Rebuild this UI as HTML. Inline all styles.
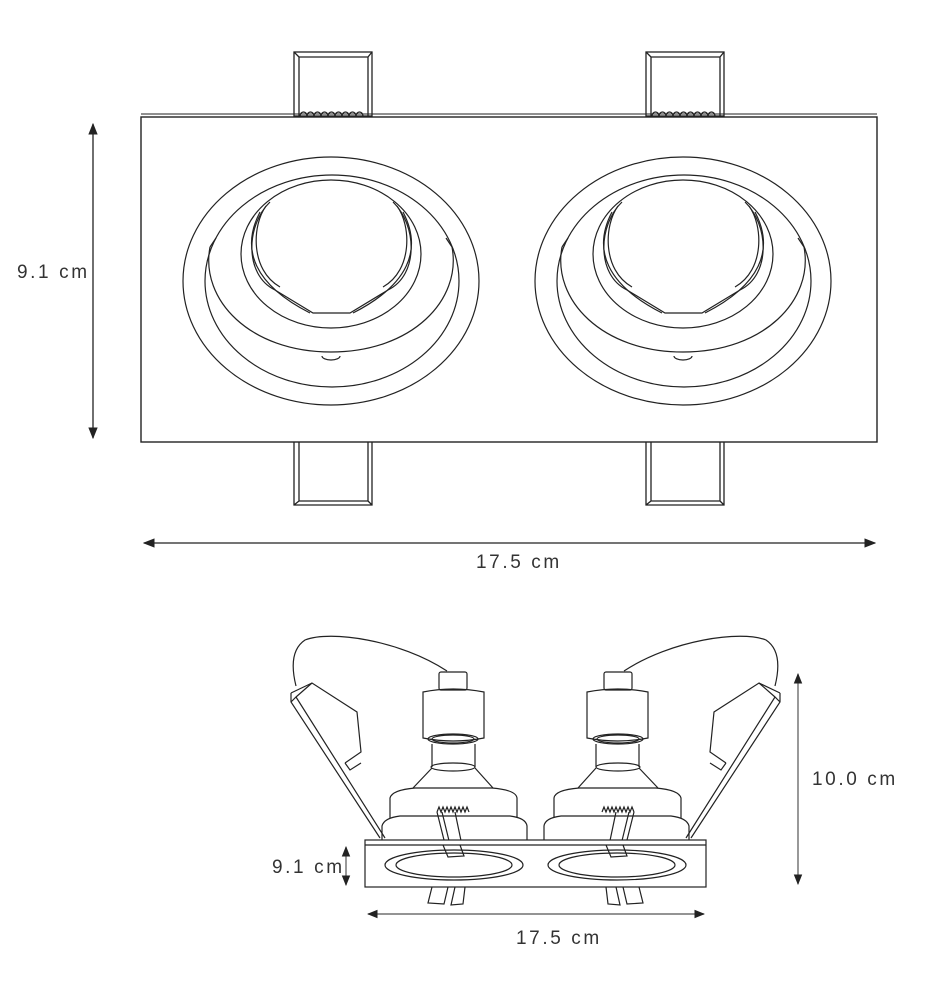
<!DOCTYPE html>
<html><head><meta charset="utf-8"><style>
html,body{margin:0;padding:0;background:#fff;width:936px;height:1000px;overflow:hidden}
svg{display:block}
text{font-family:"Liberation Sans",sans-serif;font-size:19px;fill:#333;letter-spacing:2.6px}
</style></head><body>
<svg width="936" height="1000" viewBox="0 0 936 1000" xmlns="http://www.w3.org/2000/svg">
<defs>
<marker id="a" viewBox="0 0 10 10" refX="9" refY="5" markerWidth="9" markerHeight="9" orient="auto-start-reverse"><path d="M0,1 L10,5 L0,9 z" fill="#222"/></marker>
<g id="tabT" fill="none" stroke="#222" stroke-width="1.3">
<rect x="294" y="52" width="78" height="64"/>
<path d="M299,116 V57 H368 V116 M294,52 L299,57 M372,52 L368,57"/>
<path d="M300,116 a3.5,4 0 0 1 7,0 a3.5,4 0 0 1 7,0 a3.5,4 0 0 1 7,0 a3.5,4 0 0 1 7,0 a3.5,4 0 0 1 7,0 a3.5,4 0 0 1 7,0 a3.5,4 0 0 1 7,0 a3.5,4 0 0 1 7,0 a3.5,4 0 0 1 7,0"/>
</g>
<g id="tabB" fill="none" stroke="#222" stroke-width="1.3">
<path d="M294,442 V505 H372 V442 M299,442 V501 H368 V442 M294,505 L299,501 M372,505 L368,501"/>
</g>
<g id="ring" fill="none" stroke="#222" stroke-width="1.2">
<ellipse cx="331" cy="281" rx="148" ry="124"/>
<ellipse cx="332" cy="281" rx="127" ry="106"/>
<path d="M210,247 C200,300 250,352 331,352 C412,352 462,300 452,247"/>
<path d="M216,238 L210,247 M446,238 L452,247"/>
<ellipse cx="331" cy="254" rx="90" ry="74"/>
<path d="M270,202 C246,225 244,275 275,290 L313,313 H350 L388,290 C419,275 417,225 393,202"/>
<path d="M266,206 C252,225 250,270 280,287 M397,206 C411,225 413,270 383,287"/>
<path d="M260,212 C240,250 255,285 310,313 M403,212 C423,250 408,285 353,313"/>
<path d="M322,356 a9,4 0 0 0 18,0"/>
</g>
<g id="lamp" fill="none" stroke="#222" stroke-width="1.2">
<path d="M447,671 C400,640 330,630 305,640 C290,650 292,670 296,686"/>
<path d="M291,693 L312,683 L357,712 L361,752 L345,763"/>
<path d="M291,693 L291,702 L380,838 M291,702 L296,697 L385,838 M296,697 L312,683"/>
<path d="M345,763 L350,770 L361,763"/>
<rect x="439" y="672" width="28" height="18" rx="2"/>
<path d="M423,692 Q453,686 484,692 V738 Q453,744 423,738 Z"/>
<ellipse cx="453" cy="739" rx="25" ry="5"/><ellipse cx="453" cy="739" rx="21" ry="4"/>
<path d="M432,744 V767 M475,744 V767"/>
<ellipse cx="453" cy="767" rx="22" ry="4"/>
<path d="M432,768 L413,788 M475,768 L493,788"/>
<path d="M390,818 V798 Q392,790 415,788 H492 Q516,790 517,798 V818"/>
<path d="M382,840 V826 Q384,818 400,816 L510,816 Q526,818 527,826 V840"/>
<path d="M437,812 L448,856 L464,855 L455,812 M442,812 L452,853"/>
<path d="M437,812 l2,-5 l2,5 l2,-5 l2,5 l2,-5 l2,5 l2,-5 l2,5 l2,-5 l2,5 l2,-5 l2,5 l2,-5 l2,5 l2,-5 l2,5"/>
<path d="M432,887 L428,903 L444,904 L448,887 M455,887 L451,905 L463,904 L465,887"/>
</g>
</defs>

<use href="#tabT"/><use href="#tabT" transform="translate(352,0)"/>
<use href="#tabB"/><use href="#tabB" transform="translate(352,0)"/>
<rect x="141" y="117" width="736" height="325" fill="none" stroke="#222" stroke-width="1.4"/>
<line x1="141" y1="114" x2="877" y2="114" stroke="#222" stroke-width="1"/>
<use href="#ring"/><use href="#ring" transform="translate(352,0)"/>

<line x1="93" y1="124" x2="93" y2="438" stroke="#222" stroke-width="1.3" marker-start="url(#a)" marker-end="url(#a)"/>
<text x="17" y="278">9.1 cm</text>
<line x1="144" y1="543" x2="875" y2="543" stroke="#222" stroke-width="1.3" marker-start="url(#a)" marker-end="url(#a)"/>
<text x="476" y="568">17.5 cm</text>

<use href="#lamp"/>
<use href="#lamp" transform="translate(1071,0) scale(-1,1)"/>
<g fill="none" stroke="#222" stroke-width="1.2">
<rect x="365" y="840" width="341" height="47" fill="#fff"/>
<line x1="365" y1="845" x2="706" y2="845"/>
<ellipse cx="454" cy="865" rx="69" ry="15"/><ellipse cx="454" cy="865" rx="58" ry="12"/>
<ellipse cx="617" cy="865" rx="69" ry="15"/><ellipse cx="617" cy="865" rx="58" ry="12"/>
<path d="M443,845 L448,857 L464,856 L460,845 M606,845 L611,857 L627,856 L623,845"/>
</g>
<line x1="798" y1="674" x2="798" y2="884" stroke="#555" stroke-width="1.2" marker-start="url(#a)" marker-end="url(#a)"/>
<text x="812" y="785">10.0 cm</text>
<line x1="346" y1="847" x2="346" y2="885" stroke="#555" stroke-width="1.2" marker-start="url(#a)" marker-end="url(#a)"/>
<text x="272" y="873">9.1 cm</text>
<line x1="368" y1="914" x2="704" y2="914" stroke="#555" stroke-width="1.2" marker-start="url(#a)" marker-end="url(#a)"/>
<text x="516" y="944">17.5 cm</text>
</svg>
</body></html>
